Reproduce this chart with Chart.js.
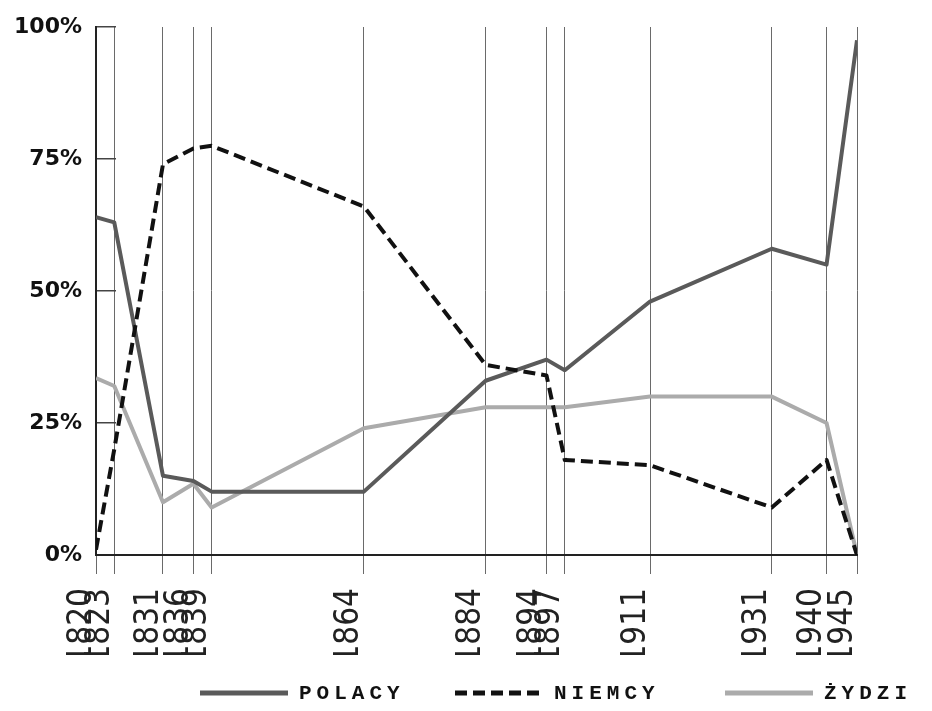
<!DOCTYPE html>
<html>
<head>
<meta charset="utf-8">
<script src="https://cdn.jsdelivr.net/npm/chart.js@4"></script>
<style>
  body { margin: 0; background: #fff; }
  #wrap { width: 932px; height: 711px; }
</style>
</head>
<body>
<div id="wrap"><canvas id="ludnosc"></canvas></div>
<script>
// lata spisów i udział narodowości (%)
const years = [1820, 1823, 1831, 1836, 1839, 1864, 1884, 1894, 1897, 1911, 1931, 1940, 1945];
const polacy = [64, 63, 15, 14, 12, 12, 33, 37, 35, 48, 58, 55, 97.5];
const niemcy = [1, 20, 74, 77, 77.5, 66, 36, 34, 18, 17, 9, 18, 0];
const zydzi = [33.5, 32, 10, 13.5, 9, 24, 28, 28, 28, 30, 30, 25, 0];
const yTicks = [0, 25, 50, 75, 100];
const labels = ['POLACY', 'NIEMCY', 'ŻYDZI'];

const toPoints = arr => arr.map((v, i) => ({ x: years[i], y: v }));

// własna legenda na dole (rozstrzelony font maszynowy)
const legendaDol = {
    id: 'legendaDol',
    afterDraw(chart) {
        const ctx = chart.ctx;
        const starts = [200, 455, 725];
        const y = 693;
        ctx.save();
        chart.data.datasets.forEach((ds, i) => {
            const x0 = starts[i];
            ctx.beginPath();
            ctx.setLineDash(ds.borderDash || []);
            ctx.lineWidth = 5;
            ctx.strokeStyle = ds.borderColor;
            ctx.moveTo(x0, y);
            ctx.lineTo(x0 + 88, y);
            ctx.stroke();
            ctx.setLineDash([]);
            ctx.fillStyle = '#111';
            ctx.font = 'bold 21px "Liberation Mono"';
            ctx.letterSpacing = '5px';
            ctx.textBaseline = 'middle';
            ctx.fillText(ds.label, x0 + 99, y + 1);
        });
        ctx.restore();
    }
};

document.addEventListener("DOMContentLoaded", function () {
    const ctx = document.getElementById('ludnosc').getContext('2d');

    new Chart(ctx, {
        type: 'line',
        data: {
            datasets: [{
                label: labels[0],
                data: toPoints(polacy),
                borderColor: '#5a5a5a',
                borderWidth: 4,
                order: 2
            }, {
                label: labels[1],
                data: toPoints(niemcy),
                borderColor: '#111',
                borderWidth: 4,
                borderDash: [12, 6],
                order: 1
            }, {
                label: labels[2],
                data: toPoints(zydzi),
                borderColor: '#ababab',
                borderWidth: 4,
                order: 3
            }]
        },
        options: {
            responsive: true,
            maintainAspectRatio: false,
            animation: false,
            layout: { padding: { left: 8, right: 75, top: 0, bottom: 56 } },
            elements: {
                point: { radius: 0 },
                line: { tension: 0, borderJoinStyle: 'round' }
            },
            plugins: {
                legend: { display: false },
                tooltip: { enabled: false }
            },
            scales: {
                x: {
                    type: 'linear',
                    min: years[0],
                    max: years[years.length - 1],
                    afterBuildTicks: s => { s.ticks = years.map(v => ({ value: v })); },
                    afterFit: s => { s.height = 100; },
                    ticks: {
                        autoSkip: false,
                        minRotation: 90,
                        maxRotation: 90,
                        padding: 14,
                        labelOffset: -14,
                        color: '#222',
                        font: { family: '"Liberation Sans Narrow", "DejaVu Sans Condensed", "DejaVu Sans"', size: 33 },
                        callback: v => String(v)
                    },
                    grid: { color: '#6a6a6a', lineWidth: 1, tickLength: 19 },
                    border: { color: '#222', width: 2 }
                },
                y: {
                    min: 0,
                    max: 100,
                    afterBuildTicks: s => { s.ticks = yTicks.map(v => ({ value: v })); },
                    afterFit: s => { s.width = 88; s.paddingTop = 27; s.paddingBottom = 13; },
                    ticks: {
                        padding: 34,
                        color: '#111',
                        font: { family: 'DejaVu Sans', size: 22, weight: 'bold' },
                        callback: v => v + '%'
                    },
                    grid: { drawOnChartArea: false, tickLength: -20, color: '#444', lineWidth: 1.5 },
                    border: { color: '#222', width: 2 }
                }
            }
        },
        plugins: [legendaDol]
    });
});
</script>
</body>
</html>
